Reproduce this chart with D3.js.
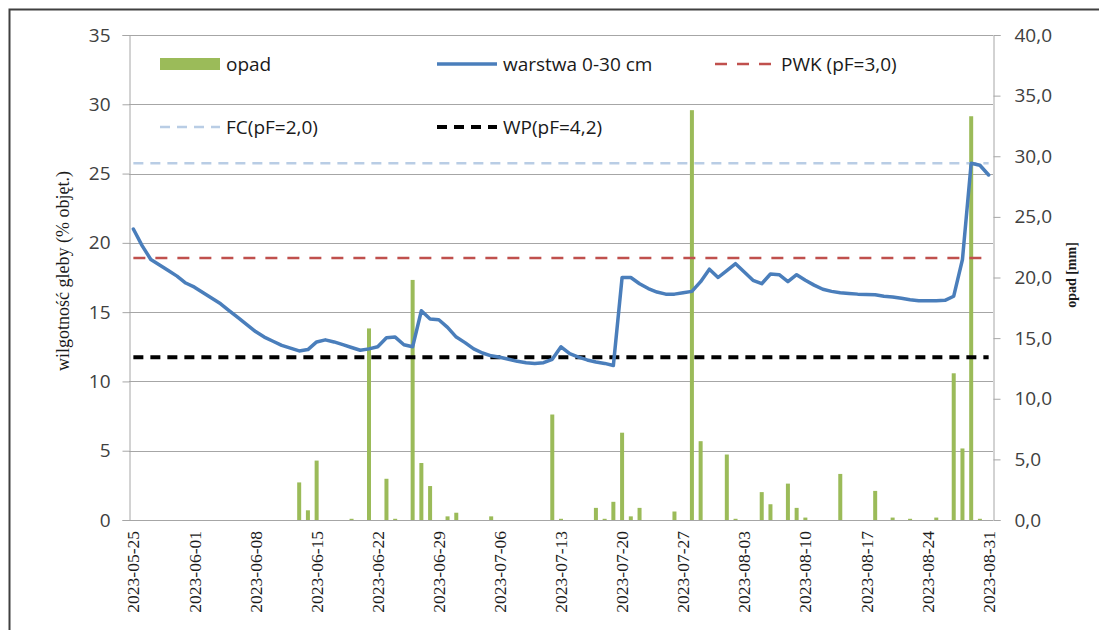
<!DOCTYPE html>
<html>
<head>
<meta charset="utf-8">
<script src="https://cdn.jsdelivr.net/npm/d3@7"></script>
<style>
  html, body { margin: 0; padding: 0; background: #fff; }
  svg { display: block; }
</style>
</head>
<body>
<svg id="chart" width="1099" height="630"></svg>
<script>
// ---------------- DATA ----------------
const startDate = "2023-05-25";
const endDate = "2023-08-31";

// soil moisture, layer 0-30 cm (% vol.), one value per day
const moisture = [
  21.0, 19.8, 18.8, 18.4, 18.0, 17.6, 17.1, 16.8, 16.4, 16.0,
  15.6, 15.1, 14.6, 14.1, 13.6, 13.2, 12.9, 12.6, 12.4, 12.2,
  12.3, 12.85, 13.0, 12.85, 12.65, 12.45, 12.25, 12.35, 12.5, 13.15,
  13.2, 12.65, 12.5, 15.1, 14.5, 14.45, 13.9, 13.2, 12.8, 12.35,
  12.05, 11.85, 11.75, 11.6, 11.45, 11.35, 11.3, 11.35, 11.6, 12.5,
  12.0, 11.75, 11.55, 11.4, 11.3, 11.15, 17.5, 17.5, 17.05, 16.7,
  16.45, 16.3, 16.3, 16.4, 16.5, 17.2, 18.1, 17.5, 18.0, 18.5,
  17.9, 17.3, 17.05, 17.75, 17.7, 17.2, 17.7, 17.3, 16.95, 16.65,
  16.5, 16.4, 16.35, 16.3, 16.28, 16.25, 16.15, 16.1, 16.0, 15.9,
  15.83, 15.83, 15.83, 15.85, 16.15, 18.8, 25.75, 25.6, 24.9
];

// daily precipitation (mm), one value per day
const precip = [
  0, 0, 0, 0, 0, 0, 0, 0, 0, 0,
  0, 0, 0, 0, 0, 0, 0, 0, 0, 3.1,
  0.8, 4.9, 0, 0, 0, 0.1, 0, 15.8, 0, 3.4,
  0.1, 0, 19.8, 4.7, 2.8, 0, 0.3, 0.6, 0, 0,
  0, 0.3, 0, 0, 0, 0, 0, 0, 8.7, 0.1,
  0, 0, 0, 1.0, 0.1, 1.5, 7.2, 0.3, 1.0, 0,
  0, 0, 0.7, 0, 33.8, 6.5, 0, 0, 5.4, 0.1,
  0, 0, 2.3, 1.3, 0, 3.0, 1.0, 0.2, 0, 0,
  0, 3.8, 0, 0, 0, 2.4, 0, 0.2, 0, 0.1,
  0, 0, 0.2, 0, 12.1, 5.9, 33.3, 0.1, 0
];

// reference moisture levels (% vol.)
const pwkLevel = 18.9;   // PWK (pF=3,0)
const fcLevel = 25.75;   // FC (pF=2,0)
const wpLevel = 11.75;   // WP (pF=4,2)

const leftTicks = [0, 5, 10, 15, 20, 25, 30, 35];
const rightTicks = [0, 5, 10, 15, 20, 25, 30, 35, 40];
const dateTicks = [
  "2023-05-25", "2023-06-01", "2023-06-08", "2023-06-15", "2023-06-22",
  "2023-06-29", "2023-07-06", "2023-07-13", "2023-07-20", "2023-07-27",
  "2023-08-03", "2023-08-10", "2023-08-17", "2023-08-24", "2023-08-31"
];

const leftTitle = "wilgotność gleby (% objęt.)";
const rightTitle = "opad [mm]";

// ---------------- CHART ----------------
const fmtDay = d3.utcFormat("%Y-%m-%d");
const dates = d3.utcDay.range(new Date(startDate + "T00:00:00Z"),
                              d3.utcDay.offset(new Date(endDate + "T00:00:00Z"), 1)).map(fmtDay);

const svg = d3.select("#chart");
const plot = { left: 129, right: 993, top: 35, bottom: 520 };

const x = d3.scaleBand().domain(dates).range([plot.left, plot.right]).padding(0);
const xc = d => x(d) + x.bandwidth() / 2;
const yL = d3.scaleLinear().domain([0, 35]).range([plot.bottom, plot.top]);
const yR = d3.scaleLinear().domain([0, 40]).range([plot.bottom, plot.top]);

svg.append("rect").attr("width", 1099).attr("height", 630).attr("fill", "#fff");

// outer border (cropped at right / bottom)
svg.append("path")
  .attr("d", "M9.5,630 L9.5,9.5 L1099,9.5")
  .attr("fill", "none").attr("stroke", "#404040").attr("stroke-width", 2);

const gridColor = "#a6a6a6";
const labelFont = "'Open Sans', 'Liberation Sans', sans-serif";

// horizontal gridlines
svg.append("g").selectAll("line").data(leftTicks).join("line")
  .attr("x1", plot.left).attr("x2", plot.right)
  .attr("y1", d => Math.round(yL(d)) + 0.5).attr("y2", d => Math.round(yL(d)) + 0.5)
  .attr("stroke", gridColor).attr("stroke-width", 1);

// left axis
const gL = svg.append("g").attr("transform", `translate(${plot.left + 0.5},0)`)
  .call(d3.axisLeft(yL).tickValues(leftTicks).tickSize(7).tickPadding(12).tickFormat(d3.format("d")));
// right axis
const gR = svg.append("g").attr("transform", `translate(${plot.right + 0.5},0)`)
  .call(d3.axisRight(yR).tickValues(rightTicks).tickSize(7).tickPadding(14)
        .tickFormat(d => d.toFixed(1).replace(".", ",")));
[gL, gR].forEach(g => {
  g.select(".domain").attr("stroke", gridColor);
  g.selectAll(".tick line").attr("stroke", gridColor);
  g.selectAll(".tick text").attr("fill", "#404040")
    .style("font-family", labelFont).style("font-size", "19px");
});

// bottom axis line
svg.append("line").attr("x1", plot.left).attr("x2", plot.right)
  .attr("y1", plot.bottom + 0.5).attr("y2", plot.bottom + 0.5)
  .attr("stroke", gridColor);

// date labels
const gX = svg.append("g").attr("transform", `translate(0,${plot.bottom})`)
  .call(d3.axisBottom(x).tickValues(dateTicks).tickSize(0).tickPadding(0));
gX.select(".domain").remove();
gX.selectAll(".tick text")
  .attr("transform", "translate(0,11) rotate(-90)")
  .attr("text-anchor", "end").attr("dy", "0.35em").attr("y", 0).attr("x", 0)
  .attr("fill", "#1a1a1a")
  .style("font-family", "'Liberation Serif', 'DejaVu Serif', serif").style("font-size", "17.5px");

// precipitation bars
const barW = 4;
svg.append("g").selectAll("rect").data(dates.map((d, i) => ({ d, v: precip[i] })).filter(o => o.v > 0))
  .join("rect")
  .attr("x", o => xc(o.d) - barW / 2).attr("width", barW)
  .attr("y", o => yR(o.v)).attr("height", o => yR(0) - yR(o.v))
  .attr("fill", "#9bbb59");

// reference lines (constant series over the whole period)
const firstX = xc(dates[0]), lastX = xc(dates[dates.length - 1]);
function refLine(level, color, width, dash) {
  svg.append("line")
    .attr("x1", firstX).attr("x2", lastX)
    .attr("y1", yL(level)).attr("y2", yL(level))
    .attr("stroke", color).attr("stroke-width", width).attr("stroke-dasharray", dash);
}
refLine(fcLevel, "#b9cde5", 2.5, "10,7");
refLine(pwkLevel, "#c0504d", 2.5, "12,10");
refLine(wpLevel, "#000000", 4, "10,7");

// moisture line
const line = d3.line().x((v, i) => xc(dates[i])).y(v => yL(v)).curve(d3.curveLinear);
svg.append("path").datum(moisture).attr("d", line)
  .attr("fill", "none").attr("stroke", "#4a7ebb").attr("stroke-width", 3.5)
  .attr("stroke-linejoin", "round").attr("stroke-linecap", "round");

// axis titles
svg.append("text").text(leftTitle)
  .attr("transform", "translate(63,271) rotate(-90)")
  .attr("text-anchor", "middle").attr("dy", "0.35em")
  .attr("fill", "#1a1a1a")
  .style("font-family", "'Liberation Serif', serif").style("font-size", "18px");
svg.append("text").text(rightTitle)
  .attr("transform", "translate(1071,275) rotate(-90)")
  .attr("text-anchor", "middle").attr("dy", "0.35em")
  .attr("fill", "#1a1a1a").attr("font-weight", "bold")
  .style("font-family", "'Liberation Serif', serif").style("font-size", "14px");

// legend
const legend = [
  { name: "opad", type: "bar", color: "#9bbb59", x: 160, y: 64 },
  { name: "warstwa 0-30 cm", type: "line", color: "#4a7ebb", width: 3.5, dash: null, x: 437, y: 64 },
  { name: "PWK (pF=3,0)", type: "line", color: "#c0504d", width: 2.5, dash: "12,10", x: 715, y: 64 },
  { name: "FC(pF=2,0)", type: "line", color: "#b9cde5", width: 2.5, dash: "10,7", x: 160, y: 127 },
  { name: "WP(pF=4,2)", type: "line", color: "#000000", width: 4, dash: "10,7", x: 437, y: 127 }
];
const lg = svg.append("g");
legend.forEach(it => {
  if (it.type === "bar") {
    lg.append("rect").attr("x", it.x).attr("y", it.y - 6).attr("width", 60).attr("height", 12).attr("fill", it.color);
  } else {
    lg.append("line").attr("x1", it.x).attr("x2", it.x + 60).attr("y1", it.y).attr("y2", it.y)
      .attr("stroke", it.color).attr("stroke-width", it.width).attr("stroke-dasharray", it.dash);
  }
  lg.append("text").text(it.name).attr("x", it.x + 66).attr("y", it.y).attr("dy", "0.35em")
    .attr("fill", "#1a1a1a").style("font-family", labelFont).style("font-size", "19px");
});
</script>
</body>
</html>
